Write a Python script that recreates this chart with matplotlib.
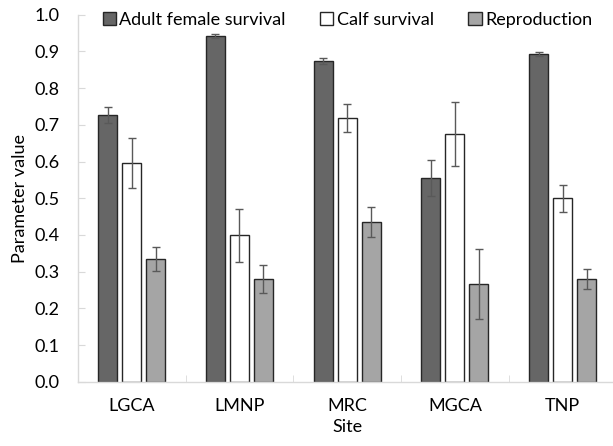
import numpy as np
import matplotlib
matplotlib.use("Agg")
import matplotlib.pyplot as plt

plt.rcParams["font.family"] = ["Lato", "DejaVu Sans"]

# ------------------------------------------------------------------ data
sites = ["LGCA", "LMNP", "MRC", "MGCA", "TNP"]
series = ["Adult female survival", "Calf survival", "Reproduction"]

adult = [0.727, 0.942, 0.875, 0.556, 0.893]
adult_err = [0.022, 0.006, 0.008, 0.049, 0.005]
calf = [0.595, 0.399, 0.718, 0.674, 0.500]
calf_err = [0.068, 0.072, 0.038, 0.087, 0.037]
repro = [0.334, 0.280, 0.435, 0.266, 0.281]
repro_err = [0.032, 0.037, 0.040, 0.096, 0.027]

values = [adult, calf, repro]
errors = [adult_err, calf_err, repro_err]
colors = ["#666666", "#ffffff", "#a5a5a5"]

# ------------------------------------------------------------------ plot
fig = plt.figure(figsize=(6.13, 4.46), dpi=100)
ax = fig.add_axes([0.127, 0.144, 0.8785, 0.823])

x = np.arange(len(sites))
step = 0.223
width = 0.176
for i, (vals, errs, col, name) in enumerate(zip(values, errors, colors, series)):
    ax.bar(x + (i - 1) * step, vals, width, color=col, edgecolor="#262626",
           linewidth=1.0, label=name, zorder=2,
           yerr=errs, error_kw=dict(ecolor="#595959", elinewidth=1.0,
                                    capsize=3, capthick=1.0))

ax.set_xlim(-0.5, len(sites) - 0.5)
ax.set_ylim(0, 1.0)
ax.set_yticks(np.arange(0, 1.01, 0.1))
ax.set_yticklabels([f"{v:.1f}" for v in np.arange(0, 1.01, 0.1)])
ax.set_xticks(x)
ax.set_xticklabels(sites)
ax.set_xticks(np.arange(0.5, len(sites) - 0.5, 1), minor=True)

for s in ["top", "right"]:
    ax.spines[s].set_visible(False)
for s in ["left", "bottom"]:
    ax.spines[s].set_color("#d9d9d9")
    ax.spines[s].set_linewidth(1.0)

ax.tick_params(axis="y", direction="in", length=5, color="#d9d9d9",
               labelsize=13, pad=13, labelcolor="#000000")
ax.tick_params(axis="x", which="major", length=0, labelsize=13, pad=12)
ax.tick_params(axis="x", which="minor", direction="in", length=5,
               color="#d9d9d9")

ax.set_xlabel("Site", fontsize=13, labelpad=3)
ax.set_ylabel("Parameter value", fontsize=13, labelpad=5)

ax.legend(loc="center left", bbox_to_anchor=(0.046, 0.9856), ncol=3,
          frameon=False, fontsize=13, handlelength=0.73, handleheight=0.73,
          handletextpad=0.2, columnspacing=1.9, borderpad=0,
          borderaxespad=0)

fig.savefig("out.png", dpi=100)
